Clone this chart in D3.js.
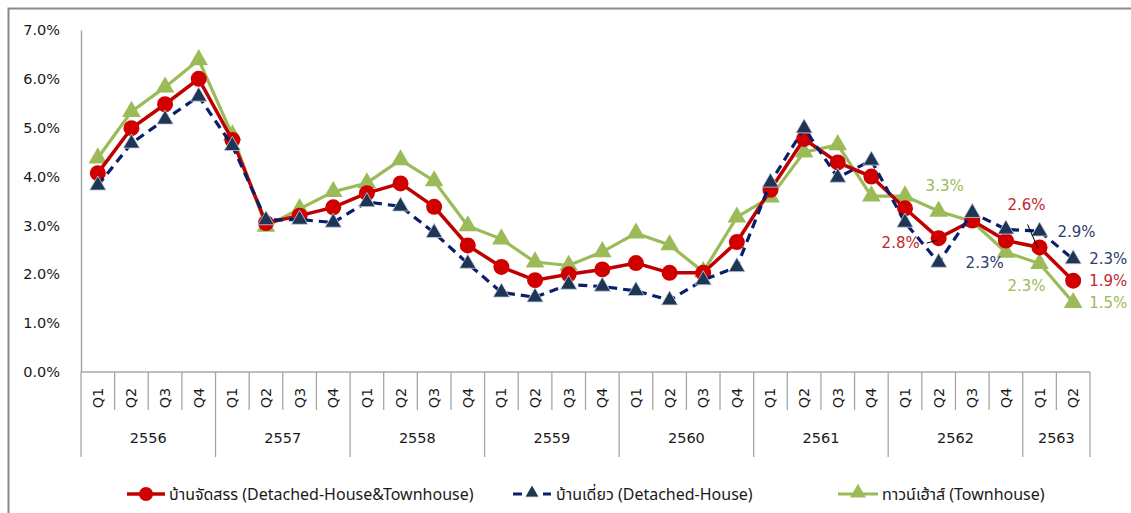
<!DOCTYPE html>
<html><head><meta charset="utf-8">
<script src="https://cdn.jsdelivr.net/npm/d3@7"></script>
<style>
html,body{margin:0;padding:0;background:#fff;}
svg{display:block;}
</style></head>
<body>
<svg id="chart" width="1131" height="513"></svg>
<script>
const years = ["2556","2557","2558","2559","2560","2561","2562","2563"];
const quartersPerYear = [4,4,4,4,4,4,4,2];
const quarterLabels = ["Q1","Q2","Q3","Q4"];
const yTicks = [0,1,2,3,4,5,6,7];

const seriesNames = ["บ้านจัดสรร (Detached-House&Townhouse)","บ้านเดี่ยว (Detached-House)","ทาวน์เฮ้าส์ (Townhouse)"];
const allHouses = [4.07,4.99,5.48,6.0,4.75,3.05,3.2,3.37,3.66,3.86,3.38,2.59,2.15,1.88,2.0,2.1,2.23,2.03,2.03,2.66,3.73,4.77,4.29,4.0,3.35,2.74,3.1,2.69,2.55,1.87];
const detached = [3.82,4.68,5.17,5.64,4.63,3.11,3.12,3.06,3.48,3.39,2.85,2.22,1.63,1.53,1.79,1.75,1.66,1.47,1.88,2.15,3.88,4.99,3.98,4.33,3.06,2.24,3.26,2.92,2.88,2.31];
const townhouse = [4.38,5.33,5.83,6.39,4.85,2.98,3.34,3.69,3.87,4.34,3.91,2.99,2.72,2.25,2.18,2.46,2.84,2.6,2.05,3.17,3.58,4.5,4.65,3.6,3.6,3.29,3.08,2.45,2.22,1.42];

// data labels: series index, point index, text
const labelSeries = [2,1,0,0,1,1,0,2,2];
const labelPoints = [25,25,25,28,28,29,29,28,29];
const labelTexts  = ["3.3%","2.3%","2.8%","2.6%","2.9%","2.3%","1.9%","2.3%","1.5%"];

(function(){
const svg = d3.select("#chart");
const W = 1131, H = 513;
const mLeft = 81, mRight = 1090, mTop = 30, mBottom = 372;

svg.append("path").attr("d", `M8.5,${H+5} L8.5,8.5 L${W+5},8.5`)
  .attr("fill","none").attr("stroke","#8a8a8a").attr("stroke-width",2);

const cats = [];
years.forEach((yr,yi)=>{ for(let q=0;q<quartersPerYear[yi];q++) cats.push({year:yr, q:quarterLabels[q], key:yr+"-"+quarterLabels[q]}); });

const x = d3.scaleBand().domain(cats.map(d=>d.key)).range([mLeft,mRight]).paddingInner(0).paddingOuter(0);
const y = d3.scaleLinear().domain([0,7]).range([mBottom, mTop]);
const cx = i => x(cats[i].key) + x.bandwidth()/2;

const axisColor = "#a6a6a6";
const labelFont = "'DejaVu Sans', Verdana, sans-serif";
const textColor = "#1a1a1a";

const yAxis = d3.axisLeft(y).tickValues(yTicks).tickFormat(d=>d.toFixed(1)+"%").tickSize(0).tickPadding(21);
const yg = svg.append("g").attr("transform",`translate(${mLeft},0)`).call(yAxis);
yg.select(".domain").attr("stroke",axisColor).attr("stroke-width",1.5);
yg.selectAll("text").attr("font-family",labelFont).attr("font-size",14.5).attr("fill",textColor);

const xg = svg.append("g").attr("transform",`translate(0,${mBottom})`);
xg.append("line").attr("x1",mLeft).attr("x2",mRight).attr("y1",0).attr("y2",0).attr("stroke",axisColor).attr("stroke-width",1.5);
const bounds = cats.map((d)=>x(d.key)).concat([mRight]);
const yearStart = new Set();
let acc=0; quartersPerYear.forEach(n=>{ yearStart.add(acc); acc+=n; }); yearStart.add(acc);
bounds.forEach((bx,i)=>{
  const isYear = yearStart.has(i);
  xg.append("line").attr("x1",bx).attr("x2",bx).attr("y1",0).attr("y2", isYear?85:38)
    .attr("stroke",axisColor).attr("stroke-width",1.3);
});
cats.forEach((d,i)=>{
  xg.append("text").attr("transform",`translate(${cx(i)+5},26) rotate(-90)`)
    .attr("text-anchor","middle").attr("font-family",labelFont).attr("font-size",14.5).attr("fill",textColor).text(d.q);
});
acc=0;
years.forEach((yr,yi)=>{
  const s = x(cats[acc].key), e = (acc+quartersPerYear[yi]<cats.length)? x(cats[acc+quartersPerYear[yi]].key) : mRight;
  xg.append("text").attr("x",(s+e)/2).attr("y",71).attr("text-anchor","middle")
    .attr("font-family",labelFont).attr("font-size",14.5).attr("fill",textColor).text(yr);
  acc+=quartersPerYear[yi];
});

const line = d3.line().x((d,i)=>cx(i)).y(d=>y(d));
const tri = (s)=>d3.symbol().type(d3.symbolTriangle).size(s)();

const colors = ["#c00000","#0b1f5c","#9bbb59"];
const datasets = [allHouses, detached, townhouse];

svg.append("path").datum(townhouse).attr("d",line).attr("fill","none").attr("stroke",colors[2]).attr("stroke-width",3.2);
svg.append("g").selectAll("path").data(townhouse).join("path")
  .attr("d",tri(150)).attr("transform",(d,i)=>`translate(${cx(i)},${y(d)})`).attr("fill","#9bbb59");

svg.append("path").datum(allHouses).attr("d",line).attr("fill","none").attr("stroke",colors[0]).attr("stroke-width",3.5);
svg.append("g").selectAll("circle").data(allHouses).join("circle")
  .attr("cx",(d,i)=>cx(i)).attr("cy",d=>y(d)).attr("r",8).attr("fill","#d00000");

svg.append("path").datum(detached).attr("d",line).attr("fill","none").attr("stroke","#0a1e6e").attr("stroke-width",3.2).attr("stroke-dasharray","9,6");
svg.append("g").selectAll("path").data(detached).join("path")
  .attr("d",tri(115)).attr("transform",(d,i)=>`translate(${cx(i)},${y(d)})`).attr("fill","#1f3554").attr("stroke","#c5d0e0").attr("stroke-width",0.8);

const leaders = [[0,25,-12,5,-1,2],[0,28,-12,-23,-2,0]];
leaders.forEach(([s,p,dx1,dy1,dx2,dy2])=>{
  const px=cx(p), py=y(datasets[s][p]);
  svg.append("line").attr("x1",px+dx1).attr("y1",py+dy1).attr("x2",px+dx2).attr("y2",py+dy2).attr("stroke","#000").attr("stroke-width",1);
});

const labelColors = ["#c0272d","#2e3d6b","#9bbb59"];
const labelOffsets = [[6,-20],[46,5],[-38,10],[-13,-37],[37,6],[35,5],[35,5],[-13,27],[35,5]];
labelTexts.forEach((t,k)=>{
  const s=labelSeries[k], p=labelPoints[k];
  svg.append("text").attr("x",cx(p)+labelOffsets[k][0]).attr("y",y(datasets[s][p])+labelOffsets[k][1])
    .attr("text-anchor","middle").attr("font-family",labelFont).attr("font-size",15).attr("fill",labelColors[s]).text(t);
});

const legFont = "'Liberation Sans Narrow','Noto Sans Thai','Noto Sans',sans-serif";
const leg = [{x:127,tx:169},{x:513,tx:556},{x:838,tx:882}];
const ly = 494;
svg.append("line").attr("x1",leg[0].x).attr("x2",leg[0].x+38).attr("y1",ly).attr("y2",ly).attr("stroke",colors[0]).attr("stroke-width",3.5);
svg.append("circle").attr("cx",leg[0].x+19).attr("cy",ly).attr("r",7).attr("fill","#d00000");
svg.append("line").attr("x1",leg[1].x).attr("x2",leg[1].x+38).attr("y1",ly).attr("y2",ly).attr("stroke","#0a1e6e").attr("stroke-width",3.2).attr("stroke-dasharray","9,6");
svg.append("path").attr("d",tri(90)).attr("transform",`translate(${leg[1].x+19},${ly-1})`).attr("fill","#1f3554").attr("stroke","#fff").attr("stroke-width",1);
svg.append("line").attr("x1",leg[2].x).attr("x2",leg[2].x+40).attr("y1",ly).attr("y2",ly).attr("stroke",colors[2]).attr("stroke-width",3.2);
svg.append("path").attr("d",tri(110)).attr("transform",`translate(${leg[2].x+20},${ly-1})`).attr("fill","#9bbb59");
seriesNames.forEach((n,k)=>{
  svg.append("text").attr("x",leg[k].tx).attr("y",ly+6).attr("font-family",legFont).attr("font-size",16).attr("fill",textColor).text(n);
});
})();
</script>
</body></html>
